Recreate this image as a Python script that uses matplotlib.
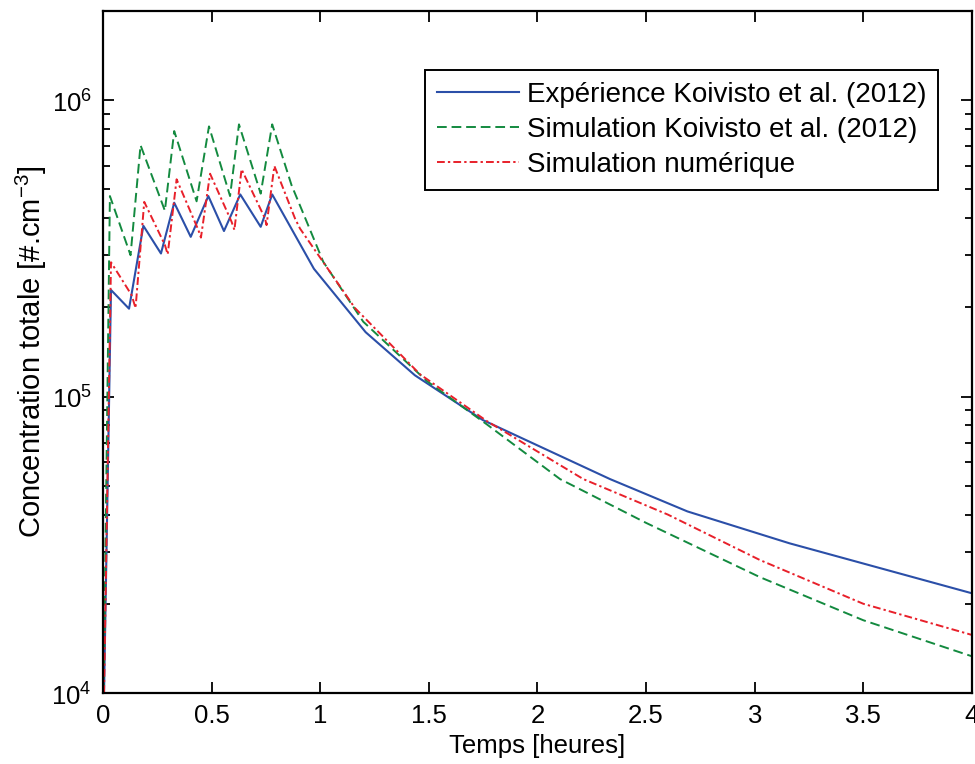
import matplotlib
matplotlib.use('Agg')
import matplotlib.pyplot as plt
from matplotlib.ticker import LogLocator, NullFormatter, FixedLocator

plt.rcParams['font.family'] = ['Liberation Sans', 'DejaVu Sans']
plt.rcParams['mathtext.fontset'] = 'custom'
plt.rcParams['mathtext.rm'] = 'Liberation Sans'

# temps [heures] / concentration [#.cm-3]
blue_t = [0.005, 0.037, 0.12, 0.186, 0.267, 0.328, 0.404, 0.485, 0.557, 0.632, 0.726, 0.779,
          0.971, 1.209, 1.436, 1.748, 2.334, 2.69, 3.16, 4.0]
blue_c = [1.0e4, 2.29e5, 1.98e5, 3.77e5, 3.04e5, 4.51e5, 3.46e5, 4.75e5, 3.62e5, 4.81e5, 3.74e5, 4.81e5,
          2.70e5, 1.65e5, 1.18e5, 8.34e4, 5.27e4, 4.1e4, 3.2e4, 2.17e4]

green_t = [0.003, 0.032, 0.127, 0.173, 0.285, 0.328, 0.431, 0.488, 0.585, 0.626, 0.726, 0.779,
           0.868, 0.938, 1.014, 1.198, 1.49, 1.766, 2.104, 2.5, 3.024, 3.5, 4.0]
green_c = [1.0e4, 4.75e5, 3.0e5, 7.05e5, 4.24e5, 7.87e5, 4.56e5, 8.16e5, 4.75e5, 8.29e5, 4.84e5, 8.29e5,
           5.17e5, 3.89e5, 2.85e5, 1.79e5, 1.13e5, 8.07e4, 5.27e4, 3.75e4, 2.46e4, 1.76e4, 1.33e4]

red_t = [0.005, 0.037, 0.132, 0.150, 0.19, 0.285, 0.298, 0.339, 0.439, 0.451, 0.493, 0.592, 0.605,
         0.638, 0.746, 0.753, 0.789, 0.884, 0.907, 1.16, 1.459, 1.766, 2.211, 2.6, 3.024, 3.5, 4.0]
red_c = [1.0e4, 2.84e5, 2.20e5, 1.99e5, 4.54e5, 3.25e5, 3.02e5, 5.41e5, 3.65e5, 3.44e5, 5.65e5, 3.89e5, 3.65e5,
         5.85e5, 3.99e5, 3.79e5, 6.0e5, 3.99e5, 3.69e5, 1.99e5, 1.19e5, 8.28e4, 5.27e4, 4.0e4, 2.81e4, 2.0e4, 1.57e4]

labels = ['Expérience Koivisto et al. (2012)', 'Simulation Koivisto et al. (2012)', 'Simulation numérique']
xticks = [0, 0.5, 1, 1.5, 2, 2.5, 3, 3.5, 4]
xticklabels = ['0', '0.5', '1', '1.5', '2', '2.5', '3', '3.5', '4']

fig = plt.figure(figsize=(9.75, 7.64), dpi=100)
ax = fig.add_axes([0.1056, 0.0929, 0.8913, 0.8927])

ax.plot(blue_t, blue_c, color='#2b4fa8', lw=1.5, label=labels[0])
ax.plot(green_t, green_c, color='#138a3f', lw=1.4, linestyle=(0, (5, 2.5)), label=labels[1])
ax.plot(red_t, red_c, color='#e8202a', lw=1.4, linestyle=(0, (4, 1.6, 1.2, 1.6)), label=labels[2])

ax.set_yscale('log')
ax.set_xlim(0, 4)
ax.set_ylim(1e4, 2e6)
ax.yaxis.set_major_locator(FixedLocator([1e4, 1e5, 1e6]))
ax.yaxis.set_minor_locator(LogLocator(base=10, subs=range(2, 10)))
ax.yaxis.set_minor_formatter(NullFormatter())
ax.set_yticklabels(['$10^{4}$', '$10^{5}$', '$10^{6}$'])
ax.set_xticks(xticks)
ax.set_xticklabels(xticklabels)

ax.tick_params(which='both', direction='in', top=True, right=True, labelsize=18.5, width=1.3)
ax.tick_params(which='major', length=8, pad=8)
ax.tick_params(which='minor', length=5)
for s in ax.spines.values():
    s.set_linewidth(1.6)

ax.set_xlabel('Temps [heures]', fontsize=18.5, labelpad=4)
ax.set_ylabel('Concentration totale [#.cm$^{-3}$]', fontsize=21, labelpad=2)

leg = ax.legend(loc='upper right', bbox_to_anchor=(0.961, 0.9135), fontsize=20,
                fancybox=False, framealpha=1, edgecolor='black', handlelength=2.95,
                handletextpad=0.3, labelspacing=0.33, borderpad=0.42, borderaxespad=0)
leg.get_frame().set_linewidth(1.4)

fig.savefig('out.png', dpi=100)
